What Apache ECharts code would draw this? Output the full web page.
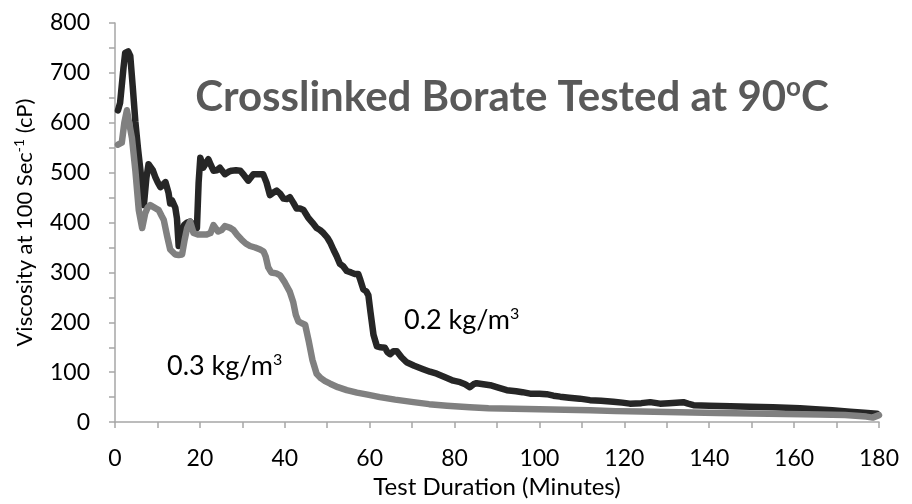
<!DOCTYPE html>
<html>
<head>
<meta charset="utf-8">
<script src="https://cdn.jsdelivr.net/npm/echarts@6/dist/echarts.min.js"></script>
<style>html,body{margin:0;padding:0;background:#fff;}#c{width:912px;height:504px;}</style>
</head>
<body>
<div id="c"></div>
<script>
// Time (minutes) and viscosity (cP) for 0.2 kg/m3
var tA = [0.7,1.2,2.0,2.4,3.1,3.6,4.2,4.8,5.4,6.0,6.8,7.4,7.9,8.2,8.9,9.5,10.1,10.7,11.3,11.9,12.2,12.6,13.0,13.4,13.8,14.2,14.6,15.0,15.6,16.3,17.0,17.7,18.5,19.3,19.7,20.1,20.8,21.5,22.0,22.6,23.2,24.0,24.7,25.9,26.8,27.5,28.5,29.5,30.4,31.4,32.6,33.8,34.9,35.7,36.5,37.3,38.1,38.9,39.7,40.5,41.2,42.0,42.8,43.6,44.4,45.5,46.5,47.5,48.3,49.1,50.0,50.7,51.5,52.2,53.0,53.8,54.6,55.6,56.5,57.3,57.8,58.5,59.2,59.7,60.2,60.9,61.7,62.6,63.6,64.2,64.8,65.6,66.4,67.5,68.7,70.5,72.6,74.2,75.8,77.5,79.7,81.3,82.5,83.6,84.5,85.2,86.8,88.4,90.3,92.3,94.5,96.0,97.8,100.0,101.7,103.3,104.9,107.0,109.5,111.9,114.5,117.4,119.5,121.3,124.0,126.1,128.4,130.5,133.9,135.0,136.3,140.0,145.0,149.6,155.0,161.4,165.0,169.0,173.2,176.5,179.5];
var vA = [625,640,710,740,743,734,670,602,550,504,435,490,517,520,505,491,480,471,476,481,484,460,438,445,448,430,408,353,375,395,400,402,395,389,480,530,510,520,527,515,504,505,510,497,502,504,505,504,495,484,497,497,497,480,455,460,464,458,448,447,451,440,428,428,425,410,400,389,385,379,370,360,345,333,317,312,303,300,297,297,285,266,262,254,220,175,152,150,149,140,136,142,142,130,120,113,106,101,97,91,83,80,76,70,76,78,76,74,69,64,62,60,57,57,56,53,51,49,47,44,43,41,39,37,38,40,37,38,40,37,34,33,32,31,30,28,26,24,21,19,17];
// Time (minutes) and viscosity (cP) for 0.3 kg/m3
var tB = [0.7,1.6,2.2,2.8,3.2,4.0,4.8,5.6,6.4,7.1,7.7,8.3,9.3,10.3,11.0,11.5,12.3,13.0,14.2,15.0,15.8,16.4,17.0,17.7,18.5,19.5,20.5,21.6,22.5,23.2,24.3,25.1,25.9,27.0,27.9,28.8,29.8,30.8,31.8,33.0,34.2,35.0,35.5,36.1,36.8,38.0,38.9,40.0,41.2,42.0,42.6,43.2,44.0,44.8,45.7,46.5,47.5,48.5,49.5,50.7,52.5,54.6,57.0,59.5,62.4,66.0,70.3,74.0,78.2,83.6,88.0,94.0,100.0,106.0,112.0,118.0,124.0,130.0,136.0,142.0,150.0,158.0,166.0,172.0,177.0,178.5,180.0];
var vB = [556,560,600,625,625,569,504,425,389,418,430,435,430,425,413,405,372,346,336,335,336,365,389,402,379,376,376,376,379,395,382,385,393,390,385,375,366,358,353,350,346,342,332,310,300,298,294,280,261,240,215,202,198,195,160,125,97,88,82,77,70,64,59,55,50,45,40,36,33,30,28,27,26,25,24,22,21,20,19,18,17,16,15,14,11,9,14];
var xTicks = [0,20,40,60,80,100,120,140,160,180];
var yTicks = [0,100,200,300,400,500,600,700,800];
var seriesNames = ['0.2 kg/m³','0.3 kg/m³'];

function pairs(t, v){ return t.map(function(x,i){ return [x, v[i]]; }); }

var chart = echarts.init(document.getElementById('c'), null, {renderer:'canvas'});
var font = 'Lato';
chart.setOption({
  animation: false,
  backgroundColor: '#ffffff',
  title: {
    text: 'Crosslinked Borate Tested at 90{sup|o}C',
    left: 507, top: 70, textAlign: 'center',
    textStyle: {
      fontFamily: font, fontWeight: 'bold', fontSize: 42, color: '#595959',
      rich: { sup: { fontFamily: font, fontWeight: 'bold', fontSize: 26, color: '#595959', padding:[0,0,18,0] } }
    }
  },
  grid: { left: 115, right: 33, top: 23, bottom: 75, containLabel: false },
  xAxis: {
    type: 'value', min: 0, max: 180, interval: 10,
    name: 'Test Duration (Minutes)', nameLocation: 'middle', nameGap: 51,
    nameTextStyle: { fontFamily: font, fontSize: 24, color: '#000' },
    axisLine: { show: true, onZero: false, lineStyle: { color: '#a6a6a6', width: 1.5 } },
    axisTick: { show: true, length: 6, lineStyle: { color: '#a6a6a6', width: 1.5 } },
    axisLabel: { fontFamily: font, fontSize: 23, color: '#000', margin: 25,
      formatter: function(v){ return xTicks.indexOf(v) >= 0 ? String(v) : ''; } },
    splitLine: { show: false }
  },
  yAxis: {
    type: 'value', min: 0, max: 800, interval: 50,
    name: 'Viscosity at 100 Sec{sup|-1} (cP)', nameLocation: 'middle', nameGap: 78,
    nameTextStyle: { fontFamily: font, fontSize: 22, color: '#000',
      rich: { sup: { fontFamily: font, fontSize: 14, color: '#000', padding:[0,0,11,0] } } },
    axisLine: { show: true, lineStyle: { color: '#a6a6a6', width: 1.5 } },
    axisTick: { show: true, length: 6, lineStyle: { color: '#a6a6a6', width: 1.5 } },
    axisLabel: { fontFamily: font, fontSize: 23, color: '#000', margin: 25,
      formatter: function(v){ return yTicks.indexOf(v) >= 0 ? String(v) : ''; } },
    splitLine: { show: false }
  },
  series: [
    { name: seriesNames[0], type: 'line', data: pairs(tA, vA), showSymbol: false, symbol: 'none',
      lineStyle: { color: '#262626', width: 6.5, join: 'round', cap: 'round' }, z: 2 },
    { name: seriesNames[1], type: 'line', data: pairs(tB, vB), showSymbol: false, symbol: 'none',
      lineStyle: { color: '#808080', width: 6.5, join: 'round', cap: 'round' }, z: 3 }
  ],
  graphic: [
    { type: 'text', left: 404, top: 306, style: { text: '0.2 kg/m{sup|3}', fontFamily: font, fontSize: 27, fill: '#000',
      rich: { sup: { fontFamily: font, fontSize: 16, fill: '#000', padding:[0,0,12,0] } } } },
    { type: 'text', left: 167, top: 352, style: { text: '0.3 kg/m{sup|3}', fontFamily: font, fontSize: 27, fill: '#000',
      rich: { sup: { fontFamily: font, fontSize: 16, fill: '#000', padding:[0,0,12,0] } } } }
  ]
});
</script>
</body>
</html>
